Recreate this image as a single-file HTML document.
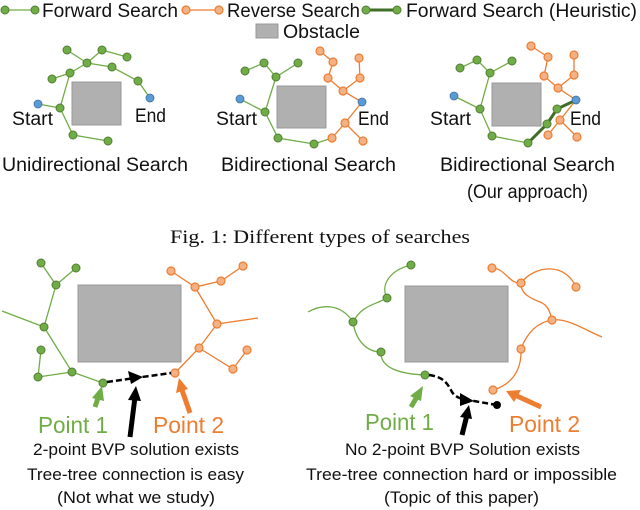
<!DOCTYPE html>
<html><head><meta charset="utf-8"><style>
html,body{margin:0;padding:0;background:#fff;}
svg{display:block;}
.t{font-family:"Liberation Sans",sans-serif;fill:#111;}
.g{stroke:#70ad47;stroke-width:1.3;fill:none;}
.o{stroke:#ed7d31;stroke-width:1.3;fill:none;}
</style></head><body>
<svg width="640" height="510" viewBox="0 0 640 510" xmlns="http://www.w3.org/2000/svg">
<defs>
<g id="gn"><circle r="4" fill="#70ad47" stroke="#507e32" stroke-width="1"/></g>
<g id="on"><circle r="4" fill="#f4b183" stroke="#ed7d31" stroke-width="1.2"/></g>
<g id="bn"><circle r="4" fill="#5b9bd5" stroke="#41719c" stroke-width="0.8"/></g>
</defs>
<!-- legend -->
<line x1="5" y1="10" x2="35" y2="10" class="g"/><use href="#gn" x="5" y="10"/><use href="#gn" x="35" y="10"/>
<text x="42" y="17" class="t" font-size="19" textLength="136" lengthAdjust="spacingAndGlyphs">Forward Search</text>
<line x1="186" y1="10" x2="219" y2="10" class="o"/><use href="#on" x="186" y="10"/><use href="#on" x="219" y="10"/>
<text x="227" y="17" class="t" font-size="19" textLength="133" lengthAdjust="spacingAndGlyphs">Reverse Search</text>
<line x1="366" y1="10" x2="397" y2="10" stroke="#3f6e26" stroke-width="3"/><use href="#gn" x="366" y="10"/><use href="#gn" x="397" y="10"/>
<text x="406" y="17" class="t" font-size="19" textLength="231" lengthAdjust="spacingAndGlyphs">Forward Search (Heuristic)</text>
<rect x="256" y="24" width="22" height="14" fill="#b0b0b0" stroke="#999"/>
<text x="283" y="38" class="t" font-size="19" textLength="77" lengthAdjust="spacingAndGlyphs">Obstacle</text>

<!-- panel 1 -->
<rect x="72" y="82" width="49" height="43" fill="#b0b0b0" stroke="#999"/>
<polyline class="g" points="67,50 87,63 102,50 127,57"/>
<polyline class="g" points="87,63 70,73 52,79"/>
<polyline class="g" points="87,63 112,67 138,81 150,98"/>
<polyline class="g" points="70,73 60,108 73,135 108,141"/>
<line class="g" x1="38" y1="104" x2="60" y2="108"/>
<use href="#gn" x="67" y="50"/><use href="#gn" x="102" y="50"/><use href="#gn" x="127" y="57"/><use href="#gn" x="87" y="63"/><use href="#gn" x="112" y="67"/><use href="#gn" x="70" y="73"/><use href="#gn" x="52" y="79"/><use href="#gn" x="138" y="81"/><use href="#gn" x="60" y="108"/><use href="#gn" x="73" y="135"/><use href="#gn" x="108" y="141"/>
<use href="#bn" x="150" y="98"/><use href="#bn" x="38" y="104"/>
<text x="12" y="125" class="t" font-size="19" textLength="41" lengthAdjust="spacingAndGlyphs">Start</text>
<text x="135" y="122" class="t" font-size="19" textLength="31" lengthAdjust="spacingAndGlyphs">End</text>
<text x="2" y="171" class="t" font-size="19" textLength="186" lengthAdjust="spacingAndGlyphs">Unidirectional Search</text>

<!-- panel 2 -->
<rect x="277" y="86" width="49" height="42" fill="#b0b0b0" stroke="#999"/>
<polyline class="g" points="245,71 264,63 276,77 298,63"/>
<polyline class="g" points="276,77 265,112 278,138 314,144 332,138"/>
<line class="g" x1="240" y1="99" x2="265" y2="112"/>
<polyline class="o" points="320,51 333,62 328,78 343,91 362,102 345,123 332,138"/>
<polyline class="o" points="359,58 360,78 343,91"/>
<line class="o" x1="345" y1="123" x2="363" y2="141"/>
<use href="#gn" x="245" y="71"/><use href="#gn" x="264" y="63"/><use href="#gn" x="298" y="63"/><use href="#gn" x="276" y="77"/><use href="#gn" x="265" y="112"/><use href="#gn" x="278" y="138"/><use href="#gn" x="314" y="144"/>
<use href="#on" x="320" y="51"/><use href="#on" x="333" y="62"/><use href="#on" x="359" y="58"/><use href="#on" x="328" y="78"/><use href="#on" x="360" y="78"/><use href="#on" x="343" y="91"/><use href="#on" x="345" y="123"/><use href="#on" x="332" y="138"/><use href="#on" x="363" y="141"/>
<use href="#bn" x="240" y="99"/><use href="#bn" x="362" y="102"/>
<text x="216" y="125" class="t" font-size="19" textLength="41" lengthAdjust="spacingAndGlyphs">Start</text>
<text x="358" y="125" class="t" font-size="19" textLength="31" lengthAdjust="spacingAndGlyphs">End</text>
<text x="221" y="171" class="t" font-size="19" textLength="175" lengthAdjust="spacingAndGlyphs">Bidirectional Search</text>

<!-- panel 3 -->
<rect x="492" y="83" width="49" height="43" fill="#b0b0b0" stroke="#999"/>
<polyline class="g" points="460,68 477,60 490,73 512,61"/>
<polyline class="g" points="490,73 480,109 492,136 528,143"/>
<line class="g" x1="454" y1="96" x2="480" y2="109"/>
<polyline class="o" points="531,46 548,57 544,76 558,88 576,100 560,120 548,135"/>
<polyline class="o" points="574,55 574,75 558,88"/>
<line class="o" x1="560" y1="120" x2="577" y2="137"/>
<polyline points="528,143 547,124 557,109 576,100" fill="none" stroke="#3f6e26" stroke-width="3"/>
<use href="#gn" x="460" y="68"/><use href="#gn" x="477" y="60"/><use href="#gn" x="512" y="61"/><use href="#gn" x="490" y="73"/><use href="#gn" x="480" y="109"/><use href="#gn" x="492" y="136"/><use href="#gn" x="528" y="143"/><use href="#gn" x="547" y="124"/><use href="#gn" x="557" y="109"/>
<use href="#on" x="531" y="46"/><use href="#on" x="548" y="57"/><use href="#on" x="574" y="55"/><use href="#on" x="544" y="76"/><use href="#on" x="574" y="75"/><use href="#on" x="558" y="88"/><use href="#on" x="560" y="120"/><use href="#on" x="548" y="135"/><use href="#on" x="577" y="137"/>
<use href="#bn" x="454" y="96"/><use href="#bn" x="576" y="100"/>
<text x="430" y="125" class="t" font-size="19" textLength="41" lengthAdjust="spacingAndGlyphs">Start</text>
<text x="570" y="125" class="t" font-size="19" textLength="31" lengthAdjust="spacingAndGlyphs">End</text>
<text x="440" y="171" class="t" font-size="19" textLength="175" lengthAdjust="spacingAndGlyphs">Bidirectional Search</text>
<text x="467" y="198" class="t" font-size="19" textLength="121" lengthAdjust="spacingAndGlyphs">(Our approach)</text>

<text x="170" y="243" font-family="Liberation Serif,serif" font-size="19" fill="#111" textLength="300" lengthAdjust="spacingAndGlyphs">Fig. 1: Different types of searches</text>

<!-- bottom left -->
<rect x="78" y="285" width="103" height="77" fill="#b0b0b0" stroke="#999"/>
<polyline class="g" points="41,263 56,285 76,268"/>
<polyline class="g" points="56,285 44,327 72,372 103,383"/>
<line class="g" x1="2" y1="311" x2="44" y2="327"/>
<polyline class="g" points="41,350 38,377 72,372"/>
<polyline class="o" points="171,271 195,287 221,281 243,266"/>
<polyline class="o" points="195,287 217,324 199,348 175,373"/>
<line class="o" x1="217" y1="324" x2="258" y2="318"/>
<polyline class="o" points="199,348 233,369 247,350"/>
<use href="#gn" x="41" y="263"/><use href="#gn" x="76" y="268"/><use href="#gn" x="56" y="285"/><use href="#gn" x="44" y="327"/><use href="#gn" x="41" y="350"/><use href="#gn" x="72" y="372"/><use href="#gn" x="38" y="377"/><use href="#gn" x="103" y="383"/>
<use href="#on" x="171" y="271"/><use href="#on" x="243" y="266"/><use href="#on" x="221" y="281"/><use href="#on" x="195" y="287"/><use href="#on" x="217" y="324"/><use href="#on" x="199" y="348"/><use href="#on" x="247" y="350"/><use href="#on" x="233" y="369"/><use href="#on" x="175" y="373"/>
<polyline points="107,382 135,378 171,373" fill="none" stroke="#000" stroke-width="2.5" stroke-dasharray="6,3"/>
<polygon points="143,377 128,371 131,384" fill="#000"/>
<line x1="95" y1="407" x2="99" y2="395" stroke="#70ad47" stroke-width="5"/><polygon points="102,386 92,398 104,401" fill="#70ad47"/>
<line x1="130" y1="437" x2="135" y2="397" stroke="#000" stroke-width="5"/><polygon points="136,386 128,400 141,401" fill="#000"/>
<line x1="190" y1="413" x2="182" y2="390" stroke="#ed7d31" stroke-width="5"/><polygon points="179,378 176,393 188,389" fill="#ed7d31"/>
<text x="38" y="433" font-family="Liberation Sans,sans-serif" font-size="23" fill="#70ad47" textLength="70" lengthAdjust="spacingAndGlyphs">Point 1</text>
<text x="153" y="433" font-family="Liberation Sans,sans-serif" font-size="23" fill="#ed7d31" textLength="71" lengthAdjust="spacingAndGlyphs">Point 2</text>
<text x="33" y="455" class="t" font-size="17" textLength="206" lengthAdjust="spacingAndGlyphs">2-point BVP solution exists</text>
<text x="27" y="480" class="t" font-size="17" textLength="217" lengthAdjust="spacingAndGlyphs">Tree-tree connection is easy</text>
<text x="57" y="503" class="t" font-size="17" textLength="158" lengthAdjust="spacingAndGlyphs">(Not what we study)</text>

<!-- bottom right -->
<rect x="405" y="286" width="103" height="76" fill="#b0b0b0" stroke="#999"/>
<path class="g" d="M308,312 C320,305 340,302 353,322"/>
<path class="g" d="M353,322 C362,305 375,305 387,298 C380,285 390,270 411,265"/>
<path class="g" d="M353,322 C356,342 368,352 381,352"/>
<path class="g" d="M381,352 C380,368 400,374 425,375"/>
<path class="o" d="M492,268 C505,268 510,285 521,283"/>
<path class="o" d="M521,283 C535,265 565,262 576,287"/>
<path class="o" d="M521,283 C520,295 535,300 540,302 C548,305 550,312 552,320"/>
<path class="o" d="M552,320 C568,318 585,330 602,337"/>
<path class="o" d="M552,320 C540,322 528,330 521,349"/>
<path class="o" d="M521,349 C522,372 510,385 493,390"/>
<use href="#gn" x="411" y="265"/><use href="#gn" x="387" y="298"/><use href="#gn" x="353" y="322"/><use href="#gn" x="381" y="352"/><use href="#gn" x="425" y="375"/>
<use href="#on" x="492" y="268"/><use href="#on" x="521" y="283"/><use href="#on" x="576" y="287"/><use href="#on" x="552" y="320"/><use href="#on" x="521" y="349"/><use href="#on" x="493" y="390"/>
<path d="M429,375 C445,377 448,385 452,392 C456,398 462,399 468,400 L497,405" fill="none" stroke="#000" stroke-width="2.5" stroke-dasharray="6,3"/>
<polygon points="474,401 460,393 460,406" fill="#000"/><circle cx="497" cy="405" r="4" fill="#000"/>
<line x1="411" y1="407" x2="418" y2="395" stroke="#70ad47" stroke-width="5"/><polygon points="423,386 410,396 421,401" fill="#70ad47"/>
<line x1="462" y1="435" x2="467" y2="415" stroke="#000" stroke-width="5"/><polygon points="469,405 460,417 472,419" fill="#000"/>
<line x1="541" y1="407" x2="517" y2="396" stroke="#ed7d31" stroke-width="5"/><polygon points="506,391 521,390 514,402" fill="#ed7d31"/>
<text x="365" y="430" font-family="Liberation Sans,sans-serif" font-size="23" fill="#70ad47" textLength="69" lengthAdjust="spacingAndGlyphs">Point 1</text>
<text x="509" y="432" font-family="Liberation Sans,sans-serif" font-size="23" fill="#ed7d31" textLength="71" lengthAdjust="spacingAndGlyphs">Point 2</text>
<text x="345" y="455" class="t" font-size="17" textLength="235" lengthAdjust="spacingAndGlyphs">No 2-point BVP Solution exists</text>
<text x="306" y="480" class="t" font-size="17" textLength="311" lengthAdjust="spacingAndGlyphs">Tree-tree connection hard or impossible</text>
<text x="384" y="503" class="t" font-size="17" textLength="155" lengthAdjust="spacingAndGlyphs">(Topic of this paper)</text>
</svg>
</body></html>
